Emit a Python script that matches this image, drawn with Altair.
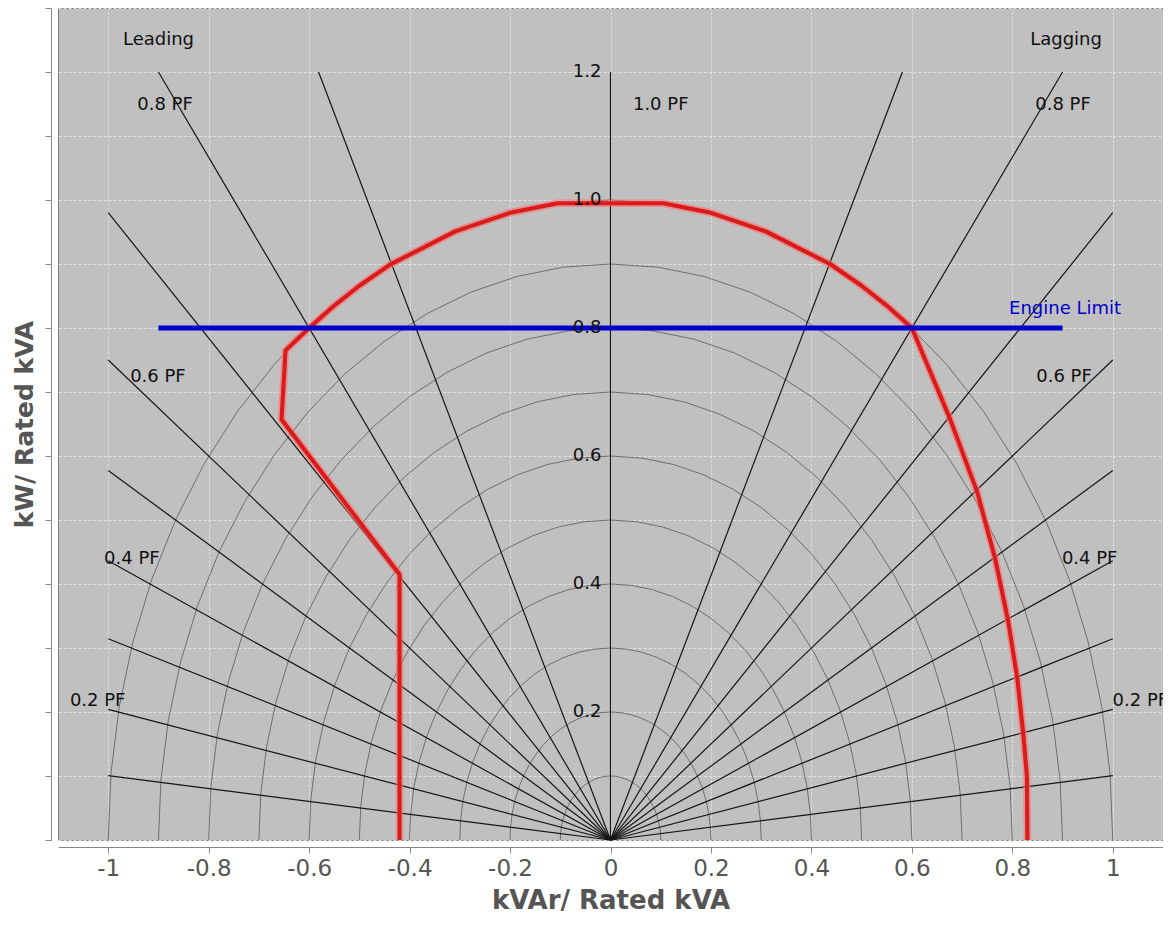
import altair as alt
import numpy as np
import pandas as pd

# ---------------- data ----------------
x_ticks = [-1.0, -0.8, -0.6, -0.4, -0.2, 0.0, 0.2, 0.4, 0.6, 0.8, 1.0]
y_ticks = [0.0, 0.1, 0.2, 0.3, 0.4, 0.5, 0.6, 0.7, 0.8, 0.9, 1.0, 1.1, 1.2, 1.3]

pf_values = [0.1, 0.2, 0.3, 0.4, 0.5, 0.6, 0.7, 0.8, 0.9]   # power-factor rays
arc_radii = [0.1, 0.2, 0.3, 0.4, 0.5, 0.6, 0.7, 0.8, 0.9, 1.0]  # kVA circles
arc_step_deg = 6
ray_x_limit = 1.0
ray_y_limit = 1.2

# capability curve
curve_x = [-0.42, -0.42, -0.655, -0.647, -0.6, -0.55, -0.5, -0.439, -0.309, -0.2,
           -0.105, 0.105, 0.2, 0.309, 0.437, 0.5, 0.55, 0.6,
           0.676, 0.73, 0.766, 0.792, 0.81, 0.822, 0.829, 0.83]
curve_y = [0.0, 0.415, 0.657, 0.765, 0.8, 0.835, 0.866, 0.899, 0.951, 0.98,
           0.995, 0.995, 0.98, 0.951, 0.9, 0.866, 0.835, 0.8,
           0.658, 0.544, 0.439, 0.341, 0.252, 0.164, 0.10, 0.0]

# engine limit
engine_x = [-0.9, 0.9]
engine_y = [0.8, 0.8]

# annotations
pf_label_text = ["0.8 PF", "0.6 PF", "0.4 PF", "0.2 PF",
                 "0.8 PF", "0.6 PF", "0.4 PF", "0.2 PF", "1.0 PF"]
pf_label_x = [-0.887, -0.901, -0.953, -1.021, 0.901, 0.903, 0.954, 1.055, 0.10]
pf_label_y = [1.148, 0.723, 0.439, 0.217, 1.148, 0.723, 0.439, 0.217, 1.148]

side_text = ["Leading", "Lagging"]
side_x = [-0.90, 0.907]
side_y = [1.25, 1.25]

axis_val_text = ["0.2", "0.4", "0.6", "0.8", "1.0", "1.2"]
axis_val_y = [0.2, 0.4, 0.6, 0.8, 1.0, 1.2]

engine_text = ["Engine Limit"]
engine_text_x = [0.905]
engine_text_y = [0.83]

# ---------------- tables ----------------
rows = []
for r in arc_radii:
    for k in range(0, 180 // arc_step_deg + 1):
        a = np.radians(k * arc_step_deg)
        rows.append({"id": f"arc{r}", "o": k, "x": r * np.cos(a), "y": r * np.sin(a)})
arcs_df = pd.DataFrame(rows)

rows = []
for pf in pf_values:
    t = np.tan(np.arccos(pf))
    if ray_y_limit * t <= ray_x_limit:
        ex, ey = ray_y_limit * t, ray_y_limit
    else:
        ex, ey = ray_x_limit, ray_x_limit / t
    for s in (-1, 1):
        rid = f"ray{pf}_{s}"
        rows.append({"id": rid, "o": 0, "x": 0.0, "y": 0.0})
        rows.append({"id": rid, "o": 1, "x": s * ex, "y": ey})
rows.append({"id": "ray1", "o": 0, "x": 0.0, "y": 0.0})
rows.append({"id": "ray1", "o": 1, "x": 0.0, "y": ray_y_limit})
rays_df = pd.DataFrame(rows)

curve_df = pd.DataFrame({"x": curve_x, "y": curve_y, "o": range(len(curve_x))})
engine_df = pd.DataFrame({"x": engine_x, "y": engine_y, "o": [0, 1]})
pf_lab_df = pd.DataFrame({"x": pf_label_x, "y": pf_label_y, "t": pf_label_text})
side_df = pd.DataFrame({"x": side_x, "y": side_y, "t": side_text})
val_df = pd.DataFrame({"x": [0.0] * len(axis_val_y), "y": axis_val_y, "t": axis_val_text})
eng_lab_df = pd.DataFrame({"x": engine_text_x, "y": engine_text_y, "t": engine_text})

# ---------------- encodings ----------------
xscale = alt.Scale(domain=[-1.1, 1.1], nice=False, zero=False)
yscale = alt.Scale(domain=[0, 1.3], nice=False, zero=False)

xaxis = alt.Axis(
    title="kVAr/ Rated kVA", values=x_ticks, labelExpr="toString(datum.value)",
    offset=7, tickSize=6, labelFontSize=23, labelColor="#555555", labelPadding=4,
    titleFontSize=26, titleFontWeight="bold", titleColor="#555555", titlePadding=7,
    grid=True, gridColor="#e6e6e6", gridDash=[2, 2], gridWidth=1,
    domainColor="#888888", tickColor="#888888", labelFlush=False,
)
yaxis = alt.Axis(
    title="kW/ Rated kVA", values=y_ticks, labels=False,
    offset=7, tickSize=6,
    titleFontSize=25, titleFontWeight="bold", titleColor="#555555", titlePadding=7,
    grid=True, gridColor="#e2e2e2", gridDash=[3, 2], gridWidth=1,
    domainColor="#888888", tickColor="#888888",
)

X = alt.X("x:Q", scale=xscale, axis=xaxis)
Y = alt.Y("y:Q", scale=yscale, axis=yaxis)

arcs = alt.Chart(arcs_df).mark_line(color="#6e6e6e", strokeWidth=1).encode(
    x=X, y=Y, detail="id:N", order="o:Q")
rays = alt.Chart(rays_df).mark_line(color="#151515", strokeWidth=1.2).encode(
    x=X, y=Y, detail="id:N", order="o:Q")
curve_halo = alt.Chart(curve_df).mark_line(
    color="#ff6a6a", strokeWidth=7.5, opacity=0.6, strokeJoin="round").encode(
    x=X, y=Y, order="o:Q")
curve = alt.Chart(curve_df).mark_line(
    color="#d81b1b", strokeWidth=4, strokeJoin="round").encode(
    x=X, y=Y, order="o:Q")
engine = alt.Chart(engine_df).mark_line(
    color="#0000cc", strokeWidth=5, strokeCap="butt").encode(
    x=X, y=Y, order="o:Q")

pf_labels = alt.Chart(pf_lab_df).mark_text(
    fontSize=18, color="#111111", align="center", baseline="middle", clip=True).encode(
    x=X, y=Y, text="t:N")
side_labels = alt.Chart(side_df).mark_text(
    fontSize=18, color="#111111", align="center", baseline="middle").encode(
    x=X, y=Y, text="t:N")
val_labels = alt.Chart(val_df).mark_text(
    fontSize=18, color="#111111", align="right", baseline="middle", dx=-9).encode(
    x=X, y=Y, text="t:N")
eng_label = alt.Chart(eng_lab_df).mark_text(
    fontSize=18, color="#0000cc", align="center", baseline="middle").encode(
    x=X, y=Y, text="t:N")

chart = alt.layer(
    arcs, rays, curve_halo, curve, engine,
    pf_labels, side_labels, val_labels, eng_label,
).properties(
    width=1105, height=832,
    padding={"left": 50, "top": 0, "right": 0, "bottom": 77},
    autosize=alt.AutoSizeParams(type="none"),
).configure(
    font="DejaVu Sans",
).configure_view(
    fill="#c0c0c0", stroke="#7a7a7a", strokeWidth=1,
)

chart.save("out.html", embed_options={"renderer": "svg", "actions": False})
